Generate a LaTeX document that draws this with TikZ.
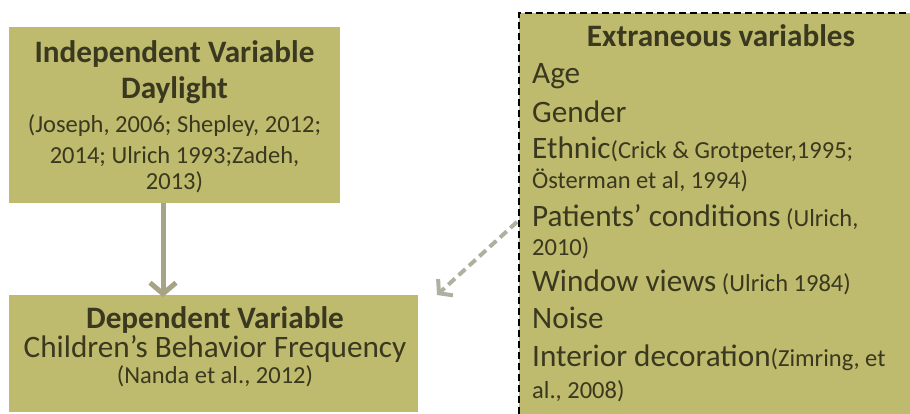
\documentclass[tikz,border=0pt]{standalone}
\usepackage{fontspec}
\setmainfont{Carlito}
\usetikzlibrary{arrows.meta}
\definecolor{boxfill}{RGB}{190,186,110}
\definecolor{txt}{RGB}{58,56,30}
\definecolor{arrsolid}{RGB}{166,164,132}
\definecolor{arrdash}{RGB}{176,176,160}
\newcommand{\citesize}{\fontsize{24.5}{28}\selectfont}
\tikzset{
  box/.style={fill=boxfill, draw=none, inner sep=0pt, anchor=north west},
  extbox/.style={fill=boxfill, draw=black, line width=1.8pt, dash pattern=on 7pt off 4pt, inner sep=0pt, anchor=north west},
  tx/.style={inner sep=0pt, text=txt},
  ttl/.style={tx, font=\bfseries\fontsize{31.2}{36}\selectfont},
  big/.style={tx, font=\fontsize{31.2}{36}\selectfont},
  cite/.style={tx, font=\citesize},
  solidarr/.style={draw=arrsolid, line width=5pt, -{Straight Barb[length=11pt,width=26pt]}},
  dasharr/.style={draw=arrdash, line width=4pt, dash pattern=on 9pt off 5pt, -{Straight Barb[length=9pt,width=22pt]}}
}
\begin{document}
\begin{tikzpicture}[x=1pt,y=-1pt]
\useasboundingbox (0,0) rectangle (910,413);
\clip (0,0) rectangle (910,413);
% boxes
\node[box, minimum width=331pt, minimum height=176pt] (ind) at (9,27) {};
\node[box, minimum width=409pt, minimum height=117pt] (dep) at (9,295) {};
\node[extbox, minimum width=412pt, minimum height=410pt] (ext) at (518,12) {};
% independent
\node[ttl, anchor=base] (i1) at (174.5,62) {Independent Variable};
\node[ttl, anchor=base] (i2) at (174.5,98) {Daylight};
\node[cite, anchor=base] (i3) at (174.5,132) {(Joseph, 2006; Shepley, 2012;};
\node[cite, anchor=base] (i4) at (174.5,163) {2014; Ulrich 1993;Zadeh,};
\node[cite, anchor=base] (i5) at (174.5,189) {2013)};
% dependent
\node[ttl, anchor=base] (d1) at (215,328) {Dependent Variable};
\node[big, anchor=base] (d2) at (215,357) {Children’s Behavior Frequency};
\node[cite, anchor=base] (d3) at (215,383) {(Nanda et al., 2012)};
% extraneous
\node[ttl, anchor=base] (e0) at (721,46) {Extraneous variables};
\node[big, anchor=base west] (e1) at (532,83) {Age};
\node[big, anchor=base west] (e2) at (532,122) {Gender};
\node[big, anchor=base west] (e3) at (532,158) {Ethnic{\citesize(Crick \& Grotpeter,1995;}};
\node[cite, anchor=base west] (e4) at (532,188) {Österman et al, 1994)};
\node[big, anchor=base west] (e5) at (532,226) {Patients’ conditions{\citesize\ (Ulrich,}};
\node[cite, anchor=base west] (e6) at (532,255) {2010)};
\node[big, anchor=base west] (e7) at (532,291) {Window views{\citesize\ (Ulrich 1984)}};
\node[big, anchor=base west] (e8) at (532,328) {Noise};
\node[big, anchor=base west] (e9) at (532,366) {Interior decoration{\citesize(Zimring, et}};
\node[cite, anchor=base west] (e10) at (532,398) {al., 2008)};
% connectors
\coordinate (ax) at (163,0);
\draw[solidarr] (ind.south -| ax) -- ([yshift=-2pt]dep.north -| ax);
\coordinate (dtip) at (437,295);
\draw[dasharr] ([xshift=-1pt,yshift=-4pt]ext.west) -- (dtip);
\end{tikzpicture}
\end{document}
